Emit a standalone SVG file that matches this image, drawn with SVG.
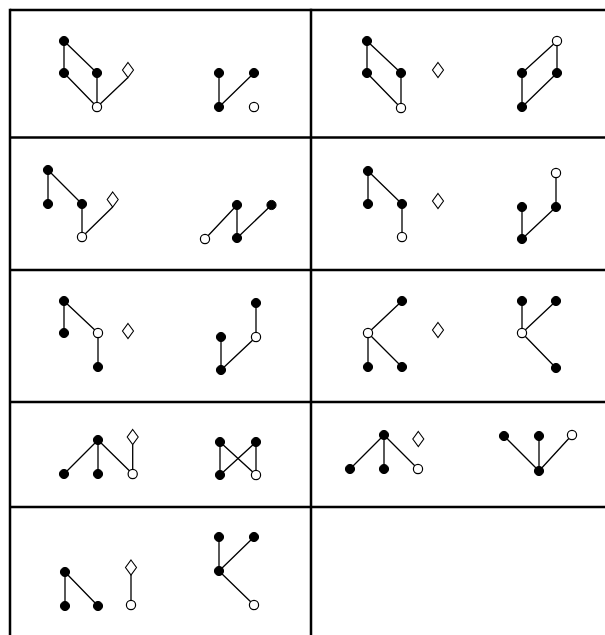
<svg xmlns="http://www.w3.org/2000/svg" width="605" height="635" viewBox="0 0 605 635">
<style>
.grid{stroke:#000;stroke-width:2.5;fill:none}
.e{stroke:#000;stroke-width:1.3;fill:none}
.f{fill:#000;stroke:#000;stroke-width:1}
.o{fill:#fff;stroke:#000;stroke-width:1.2}
.d{fill:#fff;stroke:#000;stroke-width:1.1}
</style>
<defs>
<circle id="fn" r="4.6"/>
<polygon id="dm" points="0,-7.5 5.5,0 0,7.5 -5.5,0"/>
</defs>
<g id="table" class="grid">
<line x1="10" y1="10" x2="605" y2="10"/>
<line x1="10" y1="137.5" x2="605" y2="137.5"/>
<line x1="10" y1="270" x2="605" y2="270"/>
<line x1="10" y1="402" x2="605" y2="402"/>
<line x1="10" y1="507" x2="605" y2="507"/>
<line x1="10" y1="8.75" x2="10" y2="635"/>
<line x1="311" y1="8.75" x2="311" y2="635"/>
</g>
<g id="connectors" class="e">
<!-- cell 1 -->
<path d="M64,41 L64,73 M64,41 L97,73 M64,73 L97,107 M97,73 L97,107 M97,107 L128,77.5"/>
<path d="M219,73 L219,107 M219,107 L254,73"/>
<!-- cell 2 -->
<path d="M367,41 L367,73 M367,41 L401,73 M367,73 L401,108 M401,73 L401,108"/>
<path d="M557,41 L522,73 M557,41 L557,73 M522,73 L522,107 M557,73 L522,107"/>
<!-- cell 3 -->
<path d="M48,170 L48,204 M48,170 L82,204 M82,204 L82,237 M82,237 L112.7,207"/>
<path d="M205,239 L237,205 M237,205 L237,238 M237,238 L271.5,205"/>
<!-- cell 4 -->
<path d="M368,171 L368,204 M368,171 L402,204 M402,204 L402,237"/>
<path d="M556,173 L556,207 M522,207 L522,239 M522,239 L556,207"/>
<!-- cell 5 -->
<path d="M64,301 L64,333 M64,301 L98,333 M98,333 L98,367"/>
<path d="M256,303 L256,337 M221,337 L221,370 M221,370 L256,337"/>
<!-- cell 6 -->
<path d="M402,301 L368,333 M368,333 L368,367 M368,333 L402,367"/>
<path d="M522,301 L522,333 M556,301 L522,333 M522,333 L556,368"/>
<!-- cell 7 -->
<path d="M98,440 L64,474 M98,440 L98,474 M98,440 L132.7,474 M132.7,474 L132.7,444.5"/>
<path d="M220,442 L220,475 M256,442 L256,475 M220,442 L256,475 M256,442 L220,475"/>
<!-- cell 8 -->
<path d="M384,435 L350,469 M384,435 L384,469 M384,435 L418,469"/>
<path d="M504,436 L539,471 M539,436 L539,471 M572,435 L539,471"/>
<!-- cell 9 -->
<path d="M65,572 L65,606 M65,572 L98,606 M131,605 L131,575"/>
<path d="M219,537 L219,571 M254,537 L219,571 M219,571 L254,605"/>
</g>
<g id="cell1">
<use href="#fn" class="f" x="64" y="41"/><use href="#fn" class="f" x="64" y="73"/><use href="#fn" class="f" x="97" y="73"/><use href="#fn" class="o" x="97" y="107"/>
<use href="#dm" class="d" x="128" y="70"/>
<use href="#fn" class="f" x="219" y="73"/><use href="#fn" class="f" x="254" y="73"/><use href="#fn" class="f" x="219" y="107"/><use href="#fn" class="o" x="254" y="107"/>
</g>
<g id="cell2">
<use href="#fn" class="f" x="367" y="41"/><use href="#fn" class="f" x="367" y="73"/><use href="#fn" class="f" x="401" y="73"/><use href="#fn" class="o" x="401" y="108"/>
<use href="#dm" class="d" x="438" y="70"/>
<use href="#fn" class="o" x="557" y="41"/><use href="#fn" class="f" x="522" y="73"/><use href="#fn" class="f" x="557" y="73"/><use href="#fn" class="f" x="522" y="107"/>
</g>
<g id="cell3">
<use href="#fn" class="f" x="48" y="170"/><use href="#fn" class="f" x="48" y="204"/><use href="#fn" class="f" x="82" y="204"/><use href="#fn" class="o" x="82" y="237"/>
<use href="#dm" class="d" x="112.7" y="199.5"/>
<use href="#fn" class="o" x="205" y="239"/><use href="#fn" class="f" x="237" y="205"/><use href="#fn" class="f" x="237" y="238"/><use href="#fn" class="f" x="271.5" y="205"/>
</g>
<g id="cell4">
<use href="#fn" class="f" x="368" y="171"/><use href="#fn" class="f" x="368" y="204"/><use href="#fn" class="f" x="402" y="204"/><use href="#fn" class="o" x="402" y="237"/>
<use href="#dm" class="d" x="438" y="201"/>
<use href="#fn" class="o" x="556" y="173"/><use href="#fn" class="f" x="556" y="207"/><use href="#fn" class="f" x="522" y="207"/><use href="#fn" class="f" x="522" y="239"/>
</g>
<g id="cell5">
<use href="#fn" class="f" x="64" y="301"/><use href="#fn" class="f" x="64" y="333"/><use href="#fn" class="o" x="98" y="333"/><use href="#fn" class="f" x="98" y="367"/>
<use href="#dm" class="d" x="128" y="331"/>
<use href="#fn" class="f" x="256" y="303"/><use href="#fn" class="o" x="256" y="337"/><use href="#fn" class="f" x="221" y="337"/><use href="#fn" class="f" x="221" y="370"/>
</g>
<g id="cell6">
<use href="#fn" class="f" x="402" y="301"/><use href="#fn" class="o" x="368" y="333"/><use href="#fn" class="f" x="368" y="367"/><use href="#fn" class="f" x="402" y="367"/>
<use href="#dm" class="d" x="438" y="330"/>
<use href="#fn" class="f" x="522" y="301"/><use href="#fn" class="f" x="556" y="301"/><use href="#fn" class="o" x="522" y="333"/><use href="#fn" class="f" x="556" y="368"/>
</g>
<g id="cell7">
<use href="#fn" class="f" x="98" y="440"/><use href="#fn" class="f" x="64" y="474"/><use href="#fn" class="f" x="98" y="474"/><use href="#fn" class="o" x="132.7" y="474"/>
<use href="#dm" class="d" x="132.7" y="437"/>
<use href="#fn" class="f" x="220" y="442"/><use href="#fn" class="f" x="256" y="442"/><use href="#fn" class="f" x="220" y="475"/><use href="#fn" class="o" x="256" y="475"/>
</g>
<g id="cell8">
<use href="#fn" class="f" x="384" y="435"/><use href="#fn" class="f" x="350" y="469"/><use href="#fn" class="f" x="384" y="469"/><use href="#fn" class="o" x="418" y="469"/>
<use href="#dm" class="d" x="418.3" y="439"/>
<use href="#fn" class="f" x="504" y="436"/><use href="#fn" class="f" x="539" y="436"/><use href="#fn" class="o" x="572" y="435"/><use href="#fn" class="f" x="539" y="471"/>
</g>
<g id="cell9">
<use href="#fn" class="f" x="65" y="572"/><use href="#fn" class="f" x="65" y="606"/><use href="#fn" class="f" x="98" y="606"/><use href="#fn" class="o" x="131" y="605"/>
<use href="#dm" class="d" x="131" y="567.5"/>
<use href="#fn" class="f" x="219" y="537"/><use href="#fn" class="f" x="254" y="537"/><use href="#fn" class="f" x="219" y="571"/><use href="#fn" class="o" x="254" y="605"/>
</g>
</svg>
